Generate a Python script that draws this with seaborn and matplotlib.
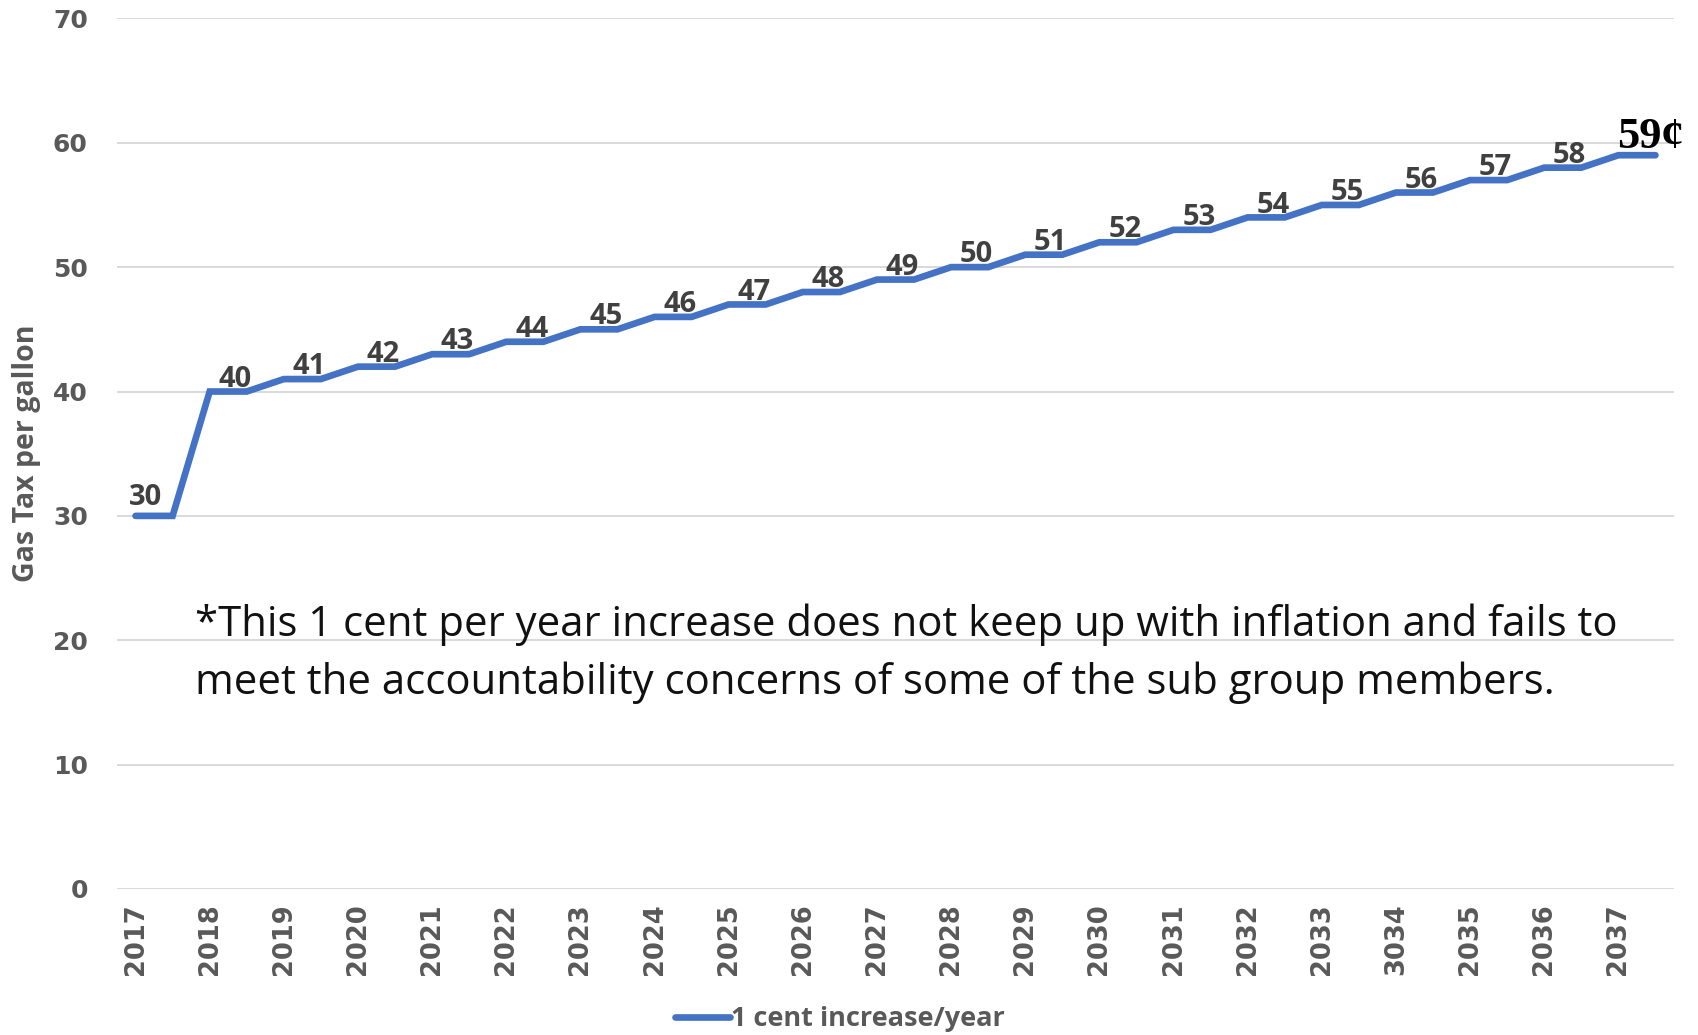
import matplotlib
matplotlib.use("Agg")
import matplotlib.pyplot as plt
import numpy as np
import pandas as pd
import seaborn as sns

# Gas tax schedule (cents per gallon), one value per year
years = ["2017", "2018", "2019", "2020", "2021", "2022", "2023", "2024", "2025",
         "2026", "2027", "2028", "2029", "2030", "2031", "2032", "2033", "3034",
         "2035", "2036", "2037"]
tax_cents = [30, 40, 41, 42, 43, 44, 45, 46, 47, 48, 49, 50, 51, 52, 53, 54,
             55, 56, 57, 58, 59]
series_name = "1 cent increase/year"
final_label = "59¢"
note_lines = ["*This 1 cent per year increase does not keep up with inflation and fails to",
              "meet the accountability concerns of some of the sub group members."]

# Each year holds its rate for a full period: two points per year make the steps
df = pd.DataFrame({
    "pos": np.arange(len(years) * 2),
    "tax": np.repeat(tax_cents, 2),
})

sns.set_theme(style="white")
plt.rcParams["font.family"] = ["DejaVu Sans"]

W, H = 1698, 1035
fig = plt.figure(figsize=(W / 100, H / 100), dpi=100)
ax = fig.add_axes([117 / W, 1 - 889 / H, (1674 - 117) / W, (889 - 18.4) / H])

line_color = "#4472C4"
sns.lineplot(data=df, x="pos", y="tax", ax=ax, color=line_color, linewidth=4.8,
             solid_capstyle="round", solid_joinstyle="miter", label=series_name,
             legend=False)

ax.set_xlim(-0.5, len(df) - 0.5)
ax.set_ylim(0, 70)
ax.set_yticks(np.arange(0, 71, 10))
ax.grid(axis="y", color="#d9d9d9", linewidth=1.4)
ax.grid(axis="x", visible=False)
ax.set_axisbelow(True)
for s in ax.spines.values():
    s.set_visible(False)

tick_color = "#595959"
ax.set_xticks(np.arange(0, len(df), 2))
ax.set_xticklabels(years, rotation=90, fontsize=18.5, fontweight="bold",
                   color=tick_color, family="DejaVu Sans")
ax.tick_params(axis="x", length=0, pad=10)
ax.tick_params(axis="y", length=0, pad=21)
for t in ax.get_yticklabels():
    t.set_fontsize(18)
    t.set_fontweight("bold")
    t.set_color(tick_color)

ax.set_xlabel("")
ax.set_ylabel("Gas Tax per gallon", fontsize=20.5, fontweight="bold",
              color=tick_color, family="Open Sans")
ax.yaxis.set_label_coords((41 - 117) / 1557, 0.5)

# Value labels sitting on each step
for i, v in enumerate(tax_cents[:-1]):
    dx, dy = (-6, 7.5) if i == 0 else (5, 3.5)
    ax.annotate(str(v), xy=(2 * i + 0.5, v), xytext=(dx, dy),
                textcoords="offset points", ha="center", va="baseline",
                fontsize=21, fontweight="bold", color="#404040", family="Open Sans")

# Final value callout
last_pos = 2 * (len(tax_cents) - 1)
ax.annotate(final_label, xy=(last_pos, tax_cents[-1]), xytext=(-1, 5),
            textcoords="offset points", ha="left", va="baseline",
            fontsize=32, fontweight="bold", color="black", family="Liberation Serif")

# Note on the chart, sized so the first line spans the width it needs
note_texts = []
for k, txt in enumerate(note_lines):
    note_texts.append(fig.text(195 / W, 1 - (636 + 58 * k) / H, txt, ha="left",
                               va="baseline", fontsize=27, color="#111111",
                               family="Open Sans"))
renderer = fig.canvas.get_renderer()
w0 = note_texts[0].get_window_extent(renderer).width
scale = 1422 / w0
for t in note_texts:
    t.set_fontsize(27 * scale)

leg = fig.legend(handles=ax.get_lines()[:1], labels=[series_name],
                 loc="center", bbox_to_anchor=(840 / W, 1 - 1019 / H),
                 frameon=False, handlelength=2.0, handletextpad=0.05,
                 prop={"family": "Open Sans", "weight": "bold", "size": 19.5})
for t in leg.get_texts():
    t.set_color(tick_color)

fig.savefig("out.png", dpi=100)
